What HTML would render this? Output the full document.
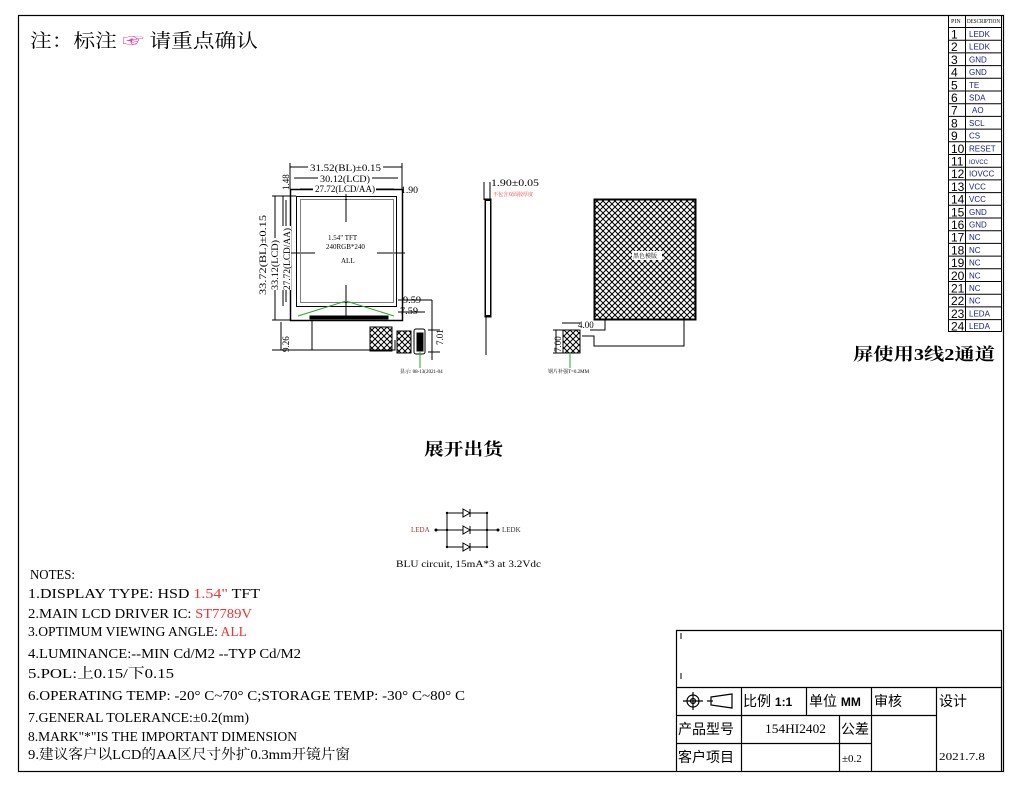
<!DOCTYPE html>
<html><head><meta charset="utf-8"><style>
body{margin:0;background:#fff;width:1016px;height:786px;overflow:hidden}
svg{display:block}
.t{font-family:"Liberation Serif","Noto Serif CJK SC",serif}
.m{font-family:"Liberation Mono","Noto Serif CJK SC",monospace}
.s{font-family:"Liberation Sans","Noto Sans CJK SC",sans-serif}
</style></head><body>
<svg width="1016" height="786" viewBox="0 0 1016 786" xmlns="http://www.w3.org/2000/svg">
<defs>
<pattern id="h" width="6" height="6" patternUnits="userSpaceOnUse">
<path d="M0 0L6 6M6 0L0 6" stroke="#000" stroke-width="1"/></pattern>
</defs>
<rect x="18.5" y="15.5" width="985" height="756" fill="none" stroke="#000" stroke-width="1.2"/>
<text x="30" y="47" class="t" font-size="19" textLength="228" lengthAdjust="spacingAndGlyphs">注：标注 <tspan fill="#e0409a">☞</tspan> 请重点确认</text>

<!-- pin table -->
<g class="s" font-size="8" stroke="#000" fill="none">
<rect x="948.5" y="15.5" width="53" height="316"/>
<line x1="965.5" y1="15" x2="965.5" y2="331"/>
</g>
<text x="951" y="23" font-size="6" class="t">PIN</text><text x="967" y="23" font-size="6" class="t" textLength="33" lengthAdjust="spacingAndGlyphs">DESCRIPTION</text>
<g id="pins"></g>

<!-- front view -->
<g stroke="#000" fill="none" stroke-width="1">
<rect x="290.5" y="189.5" width="112" height="131" stroke-width="1.5"/>
<rect x="296.5" y="196.5" width="100" height="110"/>
<rect x="300.5" y="199.5" width="93" height="103" stroke-dasharray="1 1"/>
<line x1="346" y1="192" x2="346" y2="222"/><line x1="346" y1="285" x2="346" y2="318"/>
<line x1="288" y1="253" x2="315" y2="253"/><line x1="377" y1="253" x2="405" y2="253"/>
<path d="M312 320V350H395V340"/>
<rect x="310" y="316" width="78" height="3" fill="#000"/>
<rect x="370" y="327" width="22" height="24" fill="url(#h)"/>
<rect x="397" y="331" width="14" height="22" fill="url(#h)"/>
<rect x="414" y="329" width="11" height="25" rx="2"/>
<rect x="417" y="333" width="6" height="18" fill="#000"/>
<line x1="290" y1="167" x2="402" y2="167"/><line x1="290" y1="163" x2="290" y2="189"/><line x1="402" y1="163" x2="402" y2="189"/>
<line x1="294" y1="178" x2="398" y2="178"/>
<line x1="300" y1="189" x2="394" y2="189"/>
<line x1="275" y1="196" x2="275" y2="320"/><line x1="272" y1="196" x2="296" y2="196"/><line x1="272" y1="320" x2="290" y2="320"/>
<line x1="283" y1="196" x2="283" y2="306"/><line x1="286" y1="200" x2="286" y2="302"/>
<line x1="272" y1="350" x2="312" y2="350"/><line x1="281" y1="322" x2="281" y2="350"/>
<line x1="398" y1="300" x2="432" y2="300"/><line x1="398" y1="312" x2="425" y2="312"/>
<line x1="432" y1="300" x2="432" y2="360" /><line x1="428" y1="330" x2="440" y2="330"/><line x1="428" y1="352" x2="440" y2="352"/>
</g>
<path d="M298 316L346 301L394 316" stroke="#2a2" fill="none"/>
<line x1="420" y1="352" x2="420" y2="368" stroke="#2a2"/>
<g class="t" font-size="9">
<rect x="308" y="162" width="75" height="10" fill="#fff"/>
<text x="310" y="171" textLength="71" lengthAdjust="spacingAndGlyphs">31.52(BL)±0.15</text>
<rect x="318" y="173" width="54" height="10" fill="#fff"/>
<text x="320" y="182" textLength="50" lengthAdjust="spacingAndGlyphs">30.12(LCD)</text>
<rect x="313" y="184" width="63" height="10" fill="#fff"/>
<text x="315" y="192" textLength="60" lengthAdjust="spacingAndGlyphs">27.72(LCD/AA)</text>
<text x="401" y="193" textLength="17" lengthAdjust="spacingAndGlyphs">1.90</text>
<text x="328" y="240" font-size="7">1.54" TFT</text>
<text x="326" y="249" font-size="7">240RGB*240</text>
<text x="341" y="263" font-size="7">ALL</text>
<text x="403" y="303" textLength="18" lengthAdjust="spacingAndGlyphs">9.59</text><text x="400" y="314" textLength="18" lengthAdjust="spacingAndGlyphs">7.59</text>
<text x="400" y="373" font-size="5">显示: 08-13(2021-04</text>
<rect x="258" y="214" width="10" height="82" fill="#fff"/>
<text transform="translate(266,295) rotate(-90)" textLength="80" lengthAdjust="spacingAndGlyphs">33.72(BL)±0.15</text>
<rect x="270" y="238" width="10" height="52" fill="#fff"/>
<text transform="translate(278,290) rotate(-90)" textLength="50" lengthAdjust="spacingAndGlyphs">33.12(LCD)</text>
<rect x="281" y="226" width="10" height="64" fill="#fff"/>
<text transform="translate(290,290) rotate(-90)" textLength="62" lengthAdjust="spacingAndGlyphs">27.72(LCD/AA)</text>
<text transform="translate(289,190) rotate(-90)">1.48</text>
<text transform="translate(289,352) rotate(-90)">9.26</text>
<text transform="translate(443,345) rotate(-90)">7.01</text>
</g>

<!-- side view -->
<g stroke="#000" fill="none">
<rect x="485" y="199" width="6" height="118" fill="#000"/>
<rect x="486" y="201" width="4" height="114" fill="#fff" stroke="none"/>
<line x1="486" y1="317" x2="486" y2="355"/><line x1="484" y1="182" x2="484" y2="200"/><line x1="490" y1="182" x2="490" y2="199"/>
</g>
<text x="491" y="186" class="t" font-size="9" textLength="48" lengthAdjust="spacingAndGlyphs">1.90±0.05</text>
<text x="493" y="196" class="t" font-size="5" fill="#e33">不包含双面胶厚度</text>

<!-- back view -->
<rect x="594.5" y="199.5" width="101" height="120" fill="url(#h)" stroke="#000" stroke-width="2"/>
<rect x="632" y="251" width="30" height="9" fill="#fff"/>
<text x="633" y="258" class="t" font-size="6">黑色模版</text>
<g stroke="#000" fill="none">
<path d="M684 319V346H594V336H582"/>
<path d="M605 319V330H590"/>
<rect x="563" y="330" width="17" height="23" fill="url(#h)"/>
<line x1="562" y1="323" x2="580" y2="323"/>
<line x1="553" y1="330" x2="563" y2="330"/><line x1="553" y1="353" x2="563" y2="353"/><line x1="556" y1="330" x2="556" y2="353"/>
</g>
<line x1="570" y1="353" x2="570" y2="368" stroke="#2a2"/>
<text x="578" y="328" class="t" font-size="9">4.00</text>
<text transform="translate(561,352) rotate(-90)" class="t" font-size="9">7.00</text>
<text x="548" y="373" class="t" font-size="5">钢片补强T=0.2MM</text>

<text x="853" y="360" class="t" font-size="17" font-weight="bold" textLength="142" lengthAdjust="spacingAndGlyphs">屏使用3线2通道</text>
<text x="424" y="455" class="t" font-size="17" font-weight="bold" textLength="79" lengthAdjust="spacingAndGlyphs">展开出货</text>

<!-- LED circuit -->
<g stroke="#000" fill="none">
<path d="M447 513H487V547H447Z"/>
<line x1="436" y1="530" x2="498" y2="530"/>
</g>
<g fill="#000">
<circle cx="436" cy="530" r="1.5"/><circle cx="498" cy="530" r="1.5"/>
<circle cx="447" cy="513" r="1.2"/><circle cx="487" cy="513" r="1.2"/><circle cx="447" cy="530" r="1.2"/><circle cx="487" cy="530" r="1.2"/><circle cx="447" cy="547" r="1.2"/><circle cx="487" cy="547" r="1.2"/>
</g>
<g stroke="#000" fill="#fff">
<path d="M463 509L470 513L463 517Z"/><line x1="470" y1="509" x2="470" y2="517"/>
<path d="M463 526L470 530L463 534Z"/><line x1="470" y1="526" x2="470" y2="534"/>
<path d="M463 543L470 547L463 551Z"/><line x1="470" y1="543" x2="470" y2="551"/>
</g>
<text x="411" y="532" class="t" font-size="7" fill="#a33">LEDA</text>
<text x="502" y="532" class="t" font-size="7" fill="#333">LEDK</text>
<text x="396" y="567" class="t" font-size="9" textLength="145" lengthAdjust="spacingAndGlyphs">BLU circuit, 15mA*3 at 3.2Vdc</text>

<!-- notes -->
<g class="t" font-size="14" lengthAdjust="spacingAndGlyphs">
<text x="30" y="579" textLength="45" lengthAdjust="spacingAndGlyphs">NOTES:</text>
<text x="28" y="598" textLength="232" lengthAdjust="spacingAndGlyphs">1.DISPLAY TYPE:  HSD <tspan fill="#e33">1.54"</tspan> TFT</text>
<text x="28" y="618" textLength="224" lengthAdjust="spacingAndGlyphs">2.MAIN LCD DRIVER IC: <tspan fill="#e33">ST7789V</tspan></text>
<text x="28" y="636" textLength="219" lengthAdjust="spacingAndGlyphs">3.OPTIMUM VIEWING ANGLE: <tspan fill="#e33">ALL</tspan></text>
<text x="28" y="658" textLength="273" lengthAdjust="spacingAndGlyphs">4.LUMINANCE:--MIN Cd/M2 --TYP Cd/M2</text>
<text x="28" y="678" textLength="146" lengthAdjust="spacingAndGlyphs">5.POL:上0.15/下0.15</text>
<text x="28" y="700" textLength="437" lengthAdjust="spacingAndGlyphs">6.OPERATING TEMP: -20° C~70° C;STORAGE TEMP: -30° C~80° C</text>
<text x="28" y="722" textLength="221" lengthAdjust="spacingAndGlyphs">7.GENERAL TOLERANCE:±0.2(mm)</text>
<text x="28" y="741" textLength="269" lengthAdjust="spacingAndGlyphs">8.MARK"*"IS THE IMPORTANT DIMENSION</text>
<text x="28" y="759" textLength="322" lengthAdjust="spacingAndGlyphs">9.建议客户以LCD的AA区尺寸外扩0.3mm开镜片窗</text>
</g>

<!-- title block -->
<g stroke="#000" fill="none" stroke-width="1.2">
<path d="M676.5 771V630.5H1001.5V771"/>
<line x1="676" y1="687.5" x2="1002" y2="687.5"/>
<line x1="676" y1="715.5" x2="936" y2="715.5"/>
<line x1="676" y1="743.5" x2="871" y2="743.5"/>
<line x1="741.5" y1="687" x2="741.5" y2="771"/>
<line x1="806.5" y1="687" x2="806.5" y2="715"/>
<line x1="839.5" y1="715" x2="839.5" y2="771"/>
<line x1="871.5" y1="687" x2="871.5" y2="771"/>
<line x1="936.5" y1="687" x2="936.5" y2="771"/>
<circle cx="693" cy="701" r="6"/><circle cx="693" cy="701" r="2.5"/>
<line x1="683" y1="701" x2="703" y2="701"/><line x1="693" y1="692" x2="693" y2="710"/>
<path d="M711 697L732 694V708L711 705Z"/><line x1="707" y1="701" x2="713" y2="701"/>
</g>
<line x1="681" y1="633" x2="681" y2="639" stroke="#000"/><line x1="681" y1="673" x2="681" y2="679" stroke="#000"/>
<g class="s" font-size="14">
<text x="743" y="706">比例 <tspan font-size="12" font-weight="bold">1:1</tspan></text>
<text x="809" y="706">单位 <tspan font-size="12" font-weight="bold">MM</tspan></text>
<text x="874" y="706">审核</text>
<text x="939" y="706">设计</text>
<text x="678" y="734">产品型号</text>
<text x="841" y="734">公差</text>
<text x="678" y="762">客户项目</text>
</g>
<text x="765" y="733" class="t" font-size="13" textLength="61" lengthAdjust="spacingAndGlyphs">154HI2402</text>
<text x="842" y="762" class="t" font-size="11">±0.2</text>
<text x="939" y="760" class="t" font-size="11" textLength="46" lengthAdjust="spacingAndGlyphs">2021.7.8</text>
</svg>
<script>
var p=["LEDK","LEDK","GND","GND","TE","SDA","AO","SCL","CS","RESET","IOVCC","IOVCC","VCC","VCC","GND","GND","NC","NC","NC","NC","NC","NC","LEDA","LEDA"];
var g=document.getElementById("pins"),h="";
for(var i=0;i<24;i++){var y=27.5+i*12.7;
h+='<line x1="948" y1="'+y+'" x2="1001" y2="'+y+'" stroke="#000"/>';
h+='<text x="951" y="'+(y+11)+'" font-size="12" class="s">'+(i+1)+'</text>';
h+='<text x="'+(p[i]=="AO"?972:969)+'" y="'+(y+9.5)+'" font-size="'+(i==10?6:8)+'" class="s" fill="#1a237e">'+p[i]+'</text>';}
g.innerHTML=h;
</script>
</body></html>
